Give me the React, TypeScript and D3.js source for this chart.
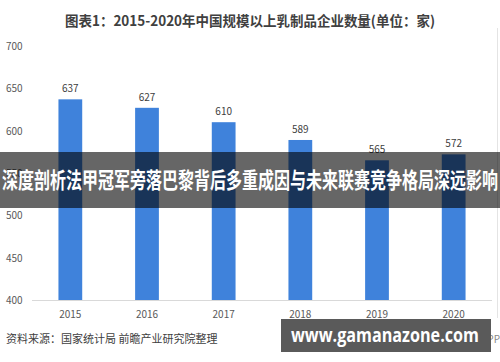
import React from "react";
import * as d3 from "d3";

const years = ["2015", "2016", "2017", "2018", "2019", "2020"];
const counts = [637, 627, 610, 589, 565, 572];
const yTicks = [400, 450, 500, 550, 600, 650, 700];
const title = "图表1：2015-2020年中国规模以上乳制品企业数量(单位：家)";
const bandText = "深度剖析法甲冠军旁落巴黎背后多重成因与未来联赛竞争格局深远影响";
const sourceText = "资料来源：国家统计局 前瞻产业研究院整理";
const siteText = "www.gamanazone.com";

export default function App() {
  const W = 500, H = 362;
  const x = d3.scaleBand().domain(years).range([32, 492]).paddingInner(0.69).paddingOuter(0.345);
  const y = d3.scaleLinear().domain([400, 700]).range([300, 46]);
  const font = "'Noto Sans CJK SC', 'Noto Sans', sans-serif";
  return (
    <svg width={W} height={H} style={{ position: "absolute", left: 0, top: 0, display: "block" }} fontFamily={font}>
      <rect x={0} y={0} width={W} height={H} fill="#fff" />
      <line x1={497.5} x2={497.5} y1={28} y2={318} stroke="#e4e4e4" />
      <text x={65} y={26} fontSize={14} fontWeight="bold" fill="#404040" textLength={370} lengthAdjust="spacingAndGlyphs">{title}</text>
      {yTicks.map(t => (
        <text key={t} x={6} y={y(t) + 4} fontSize={10} fill="#595959">{t}</text>
      ))}
      <line x1={32} x2={492} y1={y(400) + 0.5} y2={y(400) + 0.5} stroke="#d9d9d9" />
      {years.map((yr, i) => (
        <g key={yr}>
          <rect x={x(yr)} y={y(counts[i])} width={x.bandwidth()} height={y(400) - y(counts[i])} fill="#3f82db" />
          <text x={(x(yr) as number) + x.bandwidth() / 2} y={y(counts[i]) - 7} textAnchor="middle" fontSize={10} fill="#404040">{counts[i]}</text>
          <text x={(x(yr) as number) + x.bandwidth() / 2} y={318} textAnchor="middle" fontSize={10} fill="#595959">{yr}</text>
        </g>
      ))}
      <text x={6} y={343} fontSize={11} fill="#404040">{sourceText}</text>
      <text x={500} y={343} textAnchor="end" fontSize={10} fill="#888">@前瞻经济学人APP</text>
      <rect x={0} y={152} width={W} height={56} fill="rgba(0,0,0,0.6)" />
      <text x={2} y={188} fontSize={22} fontWeight="bold" fill="#fff" textLength={496} lengthAdjust="spacingAndGlyphs">{bandText}</text>
      <rect x={281} y={319} width={210} height={33} fill="#5a5a5a" />
      <text x={291} y={342} fontSize={20} fontWeight="bold" fill="#fff" fontFamily="'Open Sans', 'DejaVu Sans', sans-serif" textLength={188} lengthAdjust="spacingAndGlyphs">{siteText}</text>
    </svg>
  );
}
